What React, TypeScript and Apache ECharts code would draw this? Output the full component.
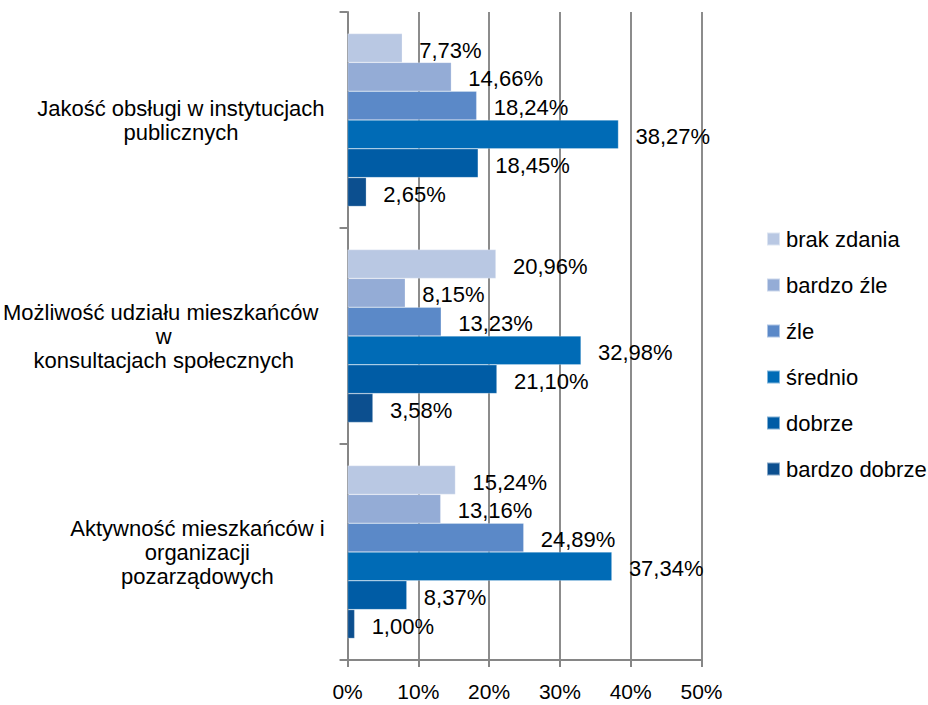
import React, { useEffect, useRef } from "react";
import * as echarts from "echarts";

const categories = [
  "Jakość obsługi w instytucjach\npublicznych",
  "Możliwość udziału mieszkańców \nw\nkonsultacjach społecznych",
  "Aktywność mieszkańców i\norganizacji\npozarządowych",
];

const seriesNames = ["brak zdania", "bardzo źle", "źle", "średnio", "dobrze", "bardzo dobrze"];

const brakZdania = [7.73, 20.96, 15.24];
const bardzoZle = [14.66, 8.15, 13.16];
const zle = [18.24, 13.23, 24.89];
const srednio = [38.27, 32.98, 37.34];
const dobrze = [18.45, 21.1, 8.37];
const bardzoDobrze = [2.65, 3.58, 1.0];

const seriesValues = [brakZdania, bardzoZle, zle, srednio, dobrze, bardzoDobrze];
const colors = ["#b9c8e3", "#94acd6", "#5b89c8", "#006bb6", "#005ca5", "#0c4f8f"];

const xTicks = [0, 10, 20, 30, 40, 50];

const FONT = "'Liberation Sans', Arial, sans-serif";

export default function App() {
  const ref = useRef<HTMLDivElement>(null);
  useEffect(() => {
    if (!ref.current) return;
    const chart = echarts.init(ref.current, undefined, { renderer: "svg" });
    chart.setOption({
      animation: false,
      textStyle: { fontFamily: FONT },
      grid: { left: 346, right: 226.5, top: 12, bottom: 45, containLabel: false },
      legend: {
        orient: "vertical",
        left: 766,
        top: 228,
        padding: 0,
        itemWidth: 13,
        itemHeight: 13,
        itemGap: 24,
        icon: "rect",
        data: seriesNames,
        textStyle: { fontSize: 22, color: "#000", fontFamily: FONT, padding: [0, 0, 0, 1] },
      },
      xAxis: {
        type: "value",
        min: xTicks[0],
        max: xTicks[xTicks.length - 1],
        interval: 10,
        axisLine: { show: true, lineStyle: { color: "#868686", width: 2 } },
        axisTick: { show: true, length: 7, lineStyle: { color: "#868686", width: 2 } },
        splitLine: { show: true, lineStyle: { color: "#8c8c8c", width: 2 } },
        axisLabel: {
          formatter: (v: number) => v + "%",
          fontSize: 21,
          color: "#000",
          margin: 21,
          fontFamily: FONT,
        },
      },
      yAxis: {
        type: "category",
        inverse: true,
        data: categories,
        axisLine: { show: true, lineStyle: { color: "#868686", width: 2 } },
        axisTick: { show: true, length: 8, lineStyle: { color: "#868686", width: 2 } },
        axisLabel: {
          margin: 23,
          fontSize: 22,
          color: "#000",
          fontFamily: FONT,
          formatter: (v: string) =>
            v
              .split("\n")
              .map((l) => "{c|" + l + "}")
              .join("\n"),
          rich: {
            c: { align: "center", fontSize: 22, lineHeight: 24, color: "#000", fontFamily: FONT },
          },
        },
      },
      series: seriesNames.map((name, i) => ({
        name,
        type: "bar",
        data: seriesValues[i],
        barGap: "0%",
        barCategoryGap: "20%",
        itemStyle: { color: colors[i], borderColor: "rgba(255,255,255,0.5)", borderWidth: 0.5 },
        label: {
          show: true,
          position: "right",
          distance: 17,
          offset: [0, 2],
          fontSize: 22,
          color: "#000",
          fontFamily: FONT,
          formatter: (p: any) => p.value.toFixed(2).replace(".", ",") + "%",
        },
      })),
    });
    return () => chart.dispose();
  }, []);
  return (
    <div
      ref={ref}
      style={{ position: "fixed", left: 0, top: 0, width: 928, height: 705, background: "#fff" }}
    />
  );
}
